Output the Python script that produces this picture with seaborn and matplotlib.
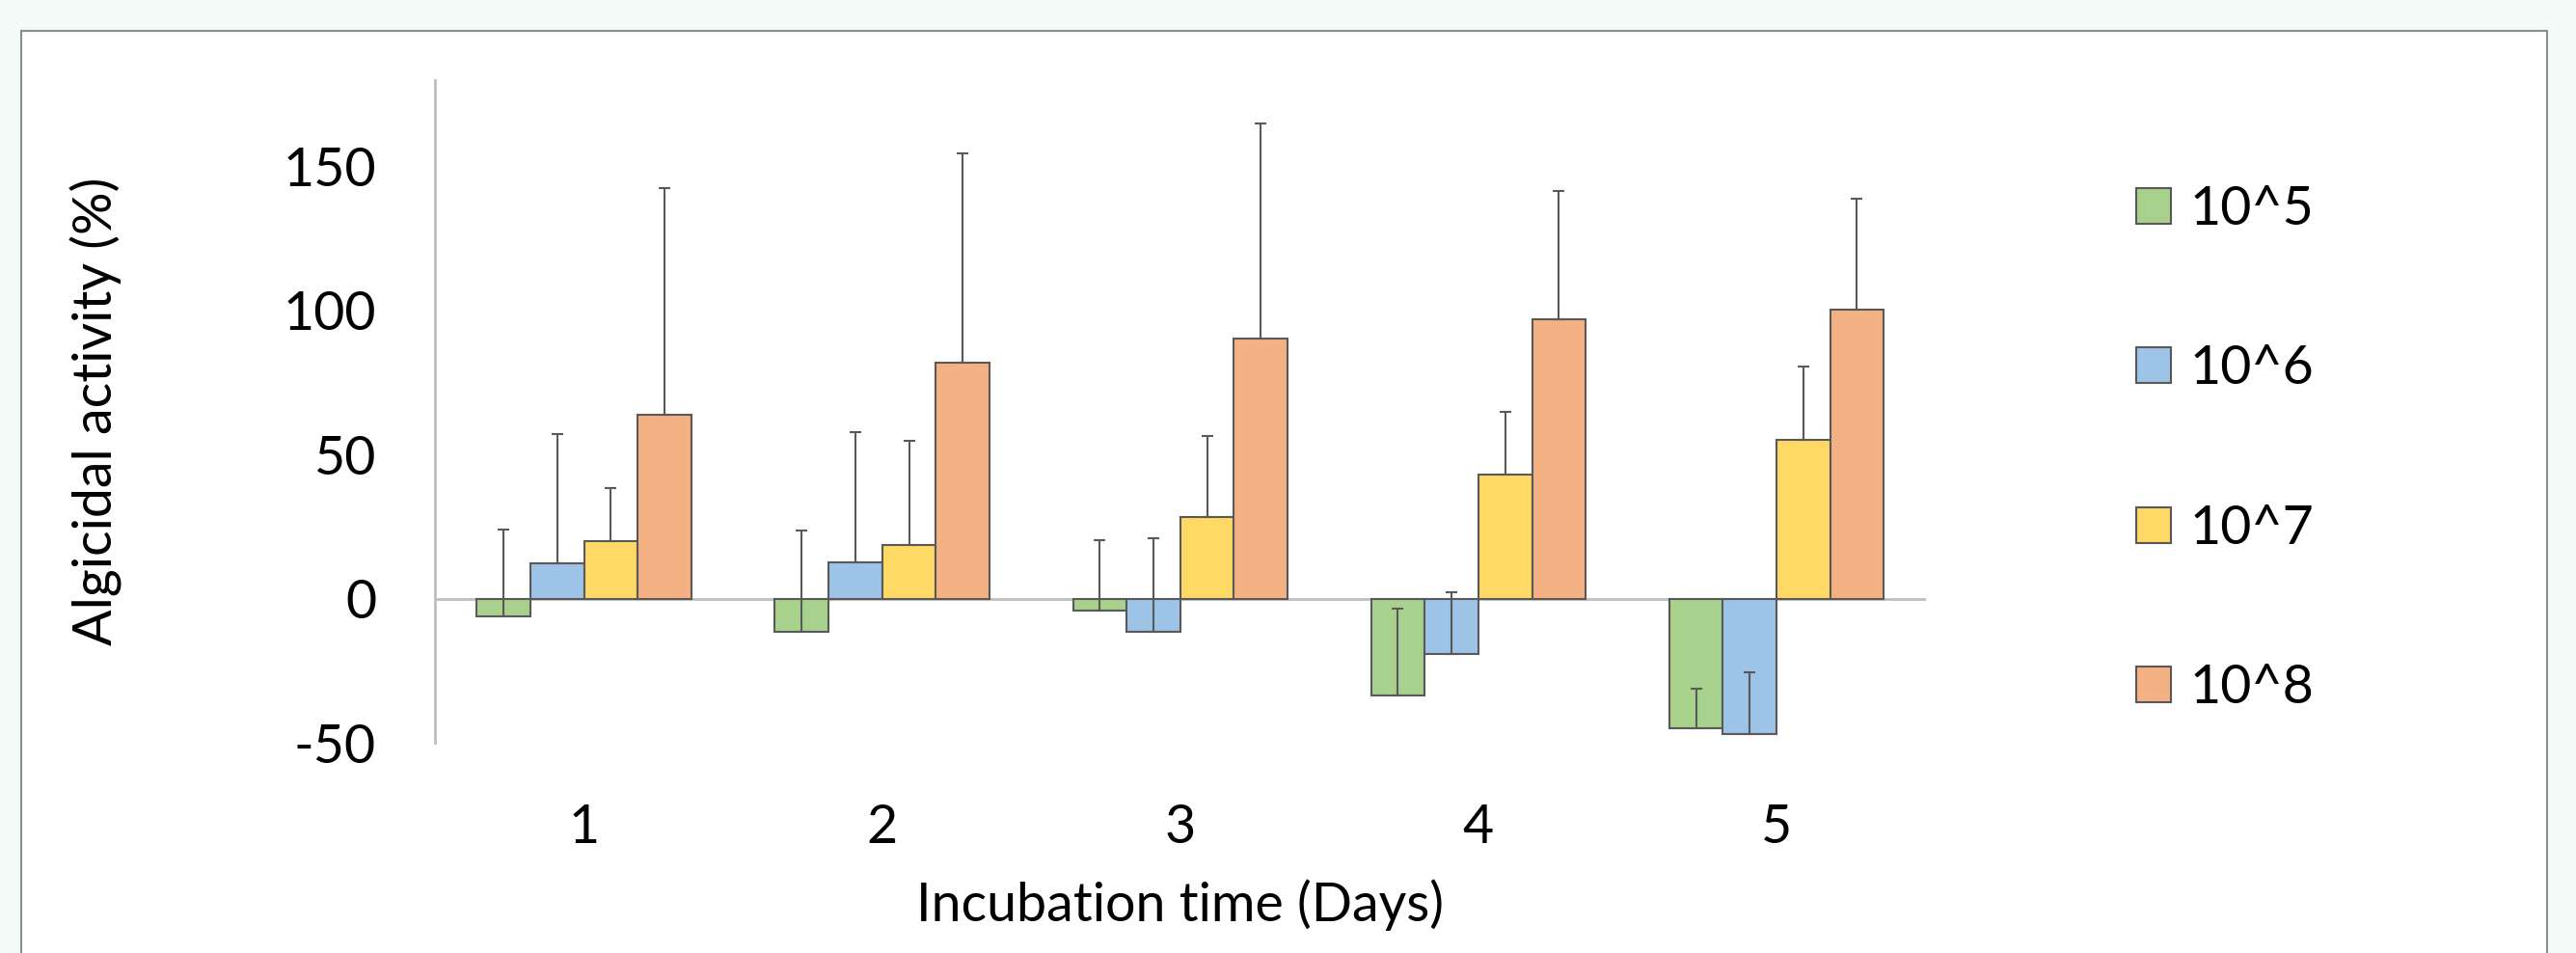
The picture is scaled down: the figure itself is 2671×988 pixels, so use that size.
import numpy as np
import pandas as pd
import matplotlib
matplotlib.use("Agg")
import matplotlib.pyplot as plt
from matplotlib.patches import Rectangle, Patch
import seaborn as sns

# ── data ────────────────────────────────────────────────────
days = ["1", "2", "3", "4", "5"]
doses = ["10^5", "10^6", "10^7", "10^8"]

mean_1e5 = [-6.1, -11.5, -4.2, -33.6, -45.1]
mean_1e6 = [12.4, 12.7, -11.6, -19.3, -47.0]
mean_1e7 = [19.9, 18.5, 28.5, 43.0, 55.2]
mean_1e8 = [63.7, 81.8, 90.3, 96.9, 100.4]

# upper end of each error bar (only the plus side is drawn)
top_1e5 = [23.9, 23.6, 20.3, -3.6, -31.2]
top_1e6 = [57.3, 57.8, 20.9, 2.4, -25.7]
top_1e7 = [38.5, 54.9, 56.4, 64.9, 80.6]
top_1e8 = [142.4, 154.6, 164.8, 141.6, 138.8]

colors = ["#A9D18E", "#9DC3E6", "#FFD966", "#F4B183"]
edge = "#595959"
axis_grey = "#BFBFBF"

means = [mean_1e5, mean_1e6, mean_1e7, mean_1e8]
tops = [top_1e5, top_1e6, top_1e7, top_1e8]

rows = []
for dose, m in zip(doses, means):
    for d, v in zip(days, m):
        rows.append({"Day": d, "Dose": dose, "Activity": v})
df = pd.DataFrame(rows)

# ── style ───────────────────────────────────────────────────
sns.set_style("white")
plt.rcParams["font.family"] = ["Lato", "DejaVu Sans"]
plt.rcParams["text.color"] = "black"
plt.rcParams["axes.labelcolor"] = "black"
plt.rcParams["xtick.color"] = "black"
plt.rcParams["ytick.color"] = "black"
FS = 40

fig = plt.figure(figsize=(26.71, 9.88), dpi=100, facecolor="#F3FBF8")

# white chart panel with thin grey border
panel = Rectangle((22 / 2671, -0.01), (2641 - 22) / 2671, 1.01 - 32 / 988,
                  transform=fig.transFigure, facecolor="white",
                  edgecolor="#8C8C8C", linewidth=1.5, zorder=-10)
fig.patches.append(panel)

ax = fig.add_axes([0.1689, 0.2206, 0.5786, 0.6954])
ax.patch.set_alpha(0)

sns.barplot(data=df, x="Day", y="Activity", hue="Dose",
            order=days, hue_order=doses, palette=colors,
            saturation=1, width=0.72, errorbar=None,
            edgecolor=edge, linewidth=1.5, legend=False, ax=ax, zorder=2)

# plus-only error bars on each bar
for cont, m, t in zip(ax.containers, means, tops):
    xs = [p.get_x() + p.get_width() / 2 for p in cont.patches]
    err = np.array(t) - np.array(m)
    ax.errorbar(xs, m, yerr=[np.zeros(len(m)), err], fmt="none",
                ecolor=edge, elinewidth=1.5, capsize=4, capthick=1.5,
                zorder=3)

ax.axhline(0, color=axis_grey, linewidth=2, zorder=1)

ax.set_xlim(-0.5, 4.5)
ax.set_ylim(-50, 180)
ax.set_yticks([-50, 0, 50, 100, 150])
ax.set_yticklabels(["-50", "0", "50", "100", "150"])

for s in ["top", "right", "bottom"]:
    ax.spines[s].set_visible(False)
ax.spines["left"].set_color(axis_grey)
ax.spines["left"].set_linewidth(2)

ax.tick_params(axis="y", length=0, pad=44, labelsize=FS)
ax.tick_params(axis="x", length=0, pad=45, labelsize=FS)

ax.set_xlabel("Incubation time (Days)", fontsize=FS)
ax.set_ylabel("Algicidal activity (%)", fontsize=FS)
ax.xaxis.set_label_coords(0.5, -0.205)
ax.yaxis.set_label_coords(-0.21, 0.5)

handles = [Patch(facecolor=c, edgecolor=edge, linewidth=1.5) for c in colors]
fig.legend(handles, doses, loc="center left",
           bbox_to_anchor=(2215 / 2671, 0.529), frameon=False,
           fontsize=FS, handlelength=0.65, handleheight=0.65,
           handletextpad=0.35, labelspacing=2.06, borderpad=0,
           borderaxespad=0)

fig.savefig("out.png", dpi=100, facecolor=fig.get_facecolor())
